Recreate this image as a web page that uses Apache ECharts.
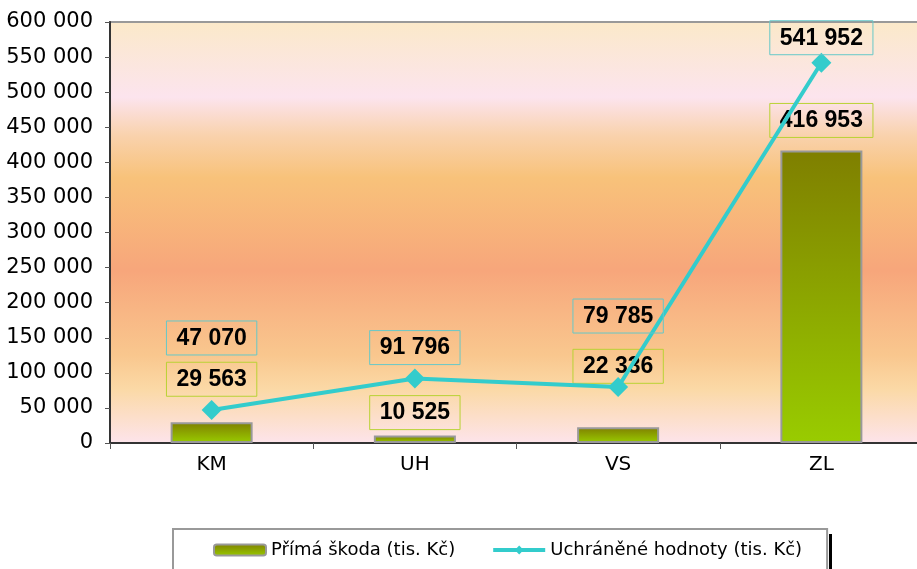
<!DOCTYPE html>
<html>
<head>
<meta charset="utf-8">
<script src="https://cdn.jsdelivr.net/npm/echarts@6/dist/echarts.min.js"></script>
<style>
  html, body { margin: 0; padding: 0; background: #fff; }
</style>
</head>
<body>
<div id="chart" style="width: 917px; height: 569px"></div>
<script>
// data
const categories = ["KM", "UH", "VS", "ZL"];
const primaSkoda = [29563, 10525, 22336, 416953];
const uchraneneHodnoty = [47070, 91796, 79785, 541952];
const seriesNames = ["Přímá škoda (tis. Kč)", "Uchráněné hodnoty (tis. Kč)"];
const yTicks = { min: 0, max: 600000, step: 50000 };

// label gaps above each mark (px), as placed in the original
const barLabelGap = [26, 6, 44, 13];
const lineLabelGap = [45, 4, 44, -2];

// "541952" -> "541 952"
const fmt = v => String(v).replace(/\B(?=(\d{3})+(?!\d))/g, " ");

const labelBase = {
  show: true,
  position: "top",
  fontFamily: "Liberation Sans",
  fontWeight: "bold",
  fontSize: 23,
  color: "#000",
  borderWidth: 1,
  padding: [6, 10, 5, 10],
  formatter: p => fmt(p.value)
};

const chartsDom = document.getElementById("chart");
const myCharts = echarts.init(chartsDom);

const option = {
  animation: false,
  // black edge on the right of the legend box
  graphic: [
    { type: "rect", left: 829, top: 534, z: 100, shape: { width: 3, height: 40 }, style: { fill: "#000" } }
  ],
  legend: {
    left: 173,
    top: 529,
    padding: [12, 25, 30, 40],
    itemWidth: 52,
    itemHeight: 11,
    itemGap: 36,
    backgroundColor: "#fff",
    borderColor: "#999",
    borderWidth: 2,
    textStyle: { fontFamily: "DejaVu Sans", fontSize: 18, color: "#000" },
    data: [
      { name: seriesNames[0] },
      { name: seriesNames[1], lineStyle: { width: 4 } }
    ]
  },
  grid: {
    left: 110,
    top: 22,
    width: 813,
    height: 421,
    outerBoundsMode: "none",
    show: true,
    borderColor: "#999",
    borderWidth: 2,
    backgroundColor: new echarts.graphic.LinearGradient(0, 0, 0, 1, [
      { offset: 0, color: "#fbe9c9" },
      { offset: 0.18, color: "#fce4ee" },
      { offset: 0.27, color: "#f9d2ad" },
      { offset: 0.37, color: "#f8c27a" },
      { offset: 0.59, color: "#f7a67b" },
      { offset: 0.79, color: "#f9c78e" },
      { offset: 0.87, color: "#fbd9a6" },
      { offset: 1, color: "#fde4ec" }
    ])
  },
  xAxis: {
    type: "category",
    data: categories,
    boundaryGap: true,
    axisLine: { lineStyle: { color: "#333", width: 2 } },
    axisTick: { show: true, length: 6, lineStyle: { color: "#555" } },
    axisLabel: { fontFamily: "DejaVu Sans", fontSize: 20, color: "#000", margin: 12 }
  },
  yAxis: {
    type: "value",
    min: yTicks.min,
    max: yTicks.max,
    interval: yTicks.step,
    splitLine: { show: false },
    axisLine: { show: true, lineStyle: { color: "#333", width: 2 } },
    axisTick: { show: true, length: 5, lineStyle: { color: "#555" } },
    axisLabel: {
      fontFamily: "DejaVu Sans",
      fontSize: 21,
      color: "#000",
      margin: 17,
      formatter: fmt
    }
  },
  series: [
    {
      name: seriesNames[0],
      type: "bar",
      barWidth: 82,
      itemStyle: {
        color: new echarts.graphic.LinearGradient(0, 0, 0, 1, [
          { offset: 0, color: "#7f7f00" },
          { offset: 1, color: "#99cc00" }
        ]),
        borderColor: "#999",
        borderWidth: 2
      },
      data: primaSkoda.map((v, i) => ({
        value: v,
        label: { distance: barLabelGap[i] }
      })),
      label: Object.assign({}, labelBase, { borderColor: "#b9d234" })
    },
    {
      name: seriesNames[1],
      type: "line",
      symbol: "diamond",
      symbolSize: 20,
      z: 3,
      lineStyle: { color: "#33cccc", width: 4 },
      itemStyle: { color: "#33cccc" },
      data: uchraneneHodnoty.map((v, i) => ({
        value: v,
        label: { distance: lineLabelGap[i] }
      })),
      label: Object.assign({}, labelBase, { borderColor: "#66c8c8" })
    }
  ]
};

myCharts.setOption(option);
</script>
</body>
</html>
